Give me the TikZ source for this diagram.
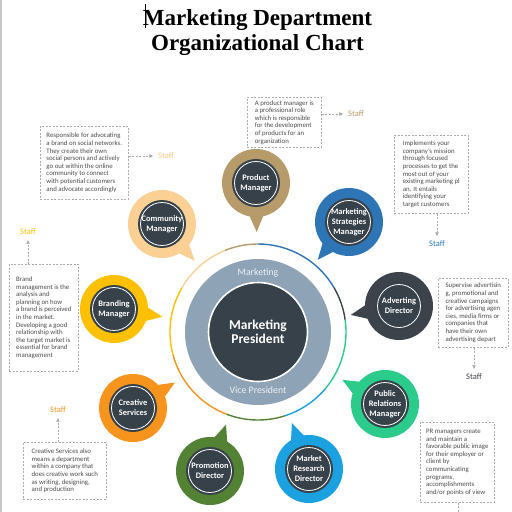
\documentclass[tikz,border=0pt]{standalone}
\usepackage{fontspec}
\setmainfont{Carlito}
\newfontfamily\titlefont{Liberation Serif}
\usetikzlibrary{calc,arrows.meta}

\definecolor{cdark}{RGB}{55,65,74}
\definecolor{cgb}{RGB}{143,163,182}
\definecolor{ccomm}{RGB}{250,208,148}
\definecolor{cprod}{RGB}{184,155,106}
\definecolor{cstrat}{RGB}{46,117,182}
\definecolor{cadv}{RGB}{61,67,74}
\definecolor{cpr}{RGB}{43,203,139}
\definecolor{cmr}{RGB}{27,160,224}
\definecolor{cpromo}{RGB}{84,130,53}
\definecolor{ccre}{RGB}{247,148,30}
\definecolor{cbrand}{RGB}{255,192,0}
\definecolor{cboxtext}{RGB}{75,75,75}
\definecolor{cboxline}{RGB}{170,170,170}
\definecolor{cvptext}{RGB}{235,240,245}

\tikzset{
  bubblebg/.style={circle, minimum size=68pt, inner sep=0pt},
  bubbleinner/.style={circle, fill=cdark, minimum size=48pt, inner sep=0pt, text=white,
    font=\fontsize{8.4}{10}\selectfont\bfseries, align=center},
  descbox/.style={draw=cboxline, dash pattern=on 2pt off 1.5pt, line width=0.6pt,
    font=\fontsize{6.8}{7.6}\selectfont, text=cboxtext, align=left, anchor=north west, inner sep=0pt},
  stafflabel/.style={font=\fontsize{8.5}{10}\selectfont, inner sep=2pt},
  staffarrow/.style={draw=cboxline, dash pattern=on 2pt off 1.5pt, line width=0.6pt,
    -{Triangle[length=3.5pt,width=3.5pt]}, shorten >=3pt},
  ringline/.style={line width=1.4pt},
  vplabel/.style={text=cvptext, font=\fontsize{9.8}{11}\selectfont},
}

\newcommand\mkbubble[5]{%
  \node[bubblebg, fill=#4] (#1) at (#2,#3) {};
  \fill[#4] ($(#1.center)!32pt!-14:(pres.center)$) -- ($(#1.center)!49pt!(pres.center)$) -- ($(#1.center)!32pt!14:(pres.center)$) -- cycle;
  \node[bubbleinner] (#1t) at (#2,#3) {#5};
  \draw[white, line width=0.8pt] (#1.center) circle[radius=21.5pt];
}

\begin{document}
\begin{tikzpicture}[x=1pt,y=-1pt]
\useasboundingbox (0,0) rectangle (512,512);
\fill[white] (0,0) rectangle (512,512);
\draw[gray!45, line width=1.5pt] (1,0) -- (1,512);

% title
\node[font=\titlefont\fontsize{23}{25}\selectfont\bfseries, anchor=base] (t1) at (257.5,25) {Marketing Department};
\node[font=\titlefont\fontsize{23}{25}\selectfont\bfseries, anchor=base] (t2) at (257.5,50) {Organizational Chart};
\draw[line width=0.8pt] (145,4) -- (145,28);

% center
\node[circle, fill=cgb, minimum size=146pt, inner sep=0pt] (vpdisk) at (258,332) {};
\node[circle, fill=cdark, draw=white, line width=1.6pt, minimum size=99pt, inner sep=0pt,
  text=white, font=\fontsize{13.5}{14}\selectfont\bfseries, align=center] (pres) at (258,332) {Marketing\\President};
\node[vplabel] (vptop) at (258,273) {Marketing};
\node[vplabel] (vpbot) at (258,390) {Vice President};

% colored outer ring
\draw[ccomm, ringline] ($(pres.center)+(150:88pt)$) arc[start angle=150, end angle=112, radius=88pt];
\draw[cprod, ringline] ($(pres.center)+(112:88pt)$) arc[start angle=112, end angle=90, radius=88pt];
\draw[cstrat, ringline] ($(pres.center)+(90:88pt)$) arc[start angle=90, end angle=30, radius=88pt];
\draw[cadv, ringline] ($(pres.center)+(30:88pt)$) arc[start angle=30, end angle=8, radius=88pt];
\draw[cpr, ringline] ($(pres.center)+(8:88pt)$) arc[start angle=8, end angle=-40, radius=88pt];
\draw[cmr, ringline] ($(pres.center)+(-40:88pt)$) arc[start angle=-40, end angle=-72, radius=88pt];
\draw[cpromo, ringline] ($(pres.center)+(-72:88pt)$) arc[start angle=-72, end angle=-111, radius=88pt];
\draw[ccre, ringline] ($(pres.center)+(-111:88pt)$) arc[start angle=-111, end angle=-165, radius=88pt];
\draw[cbrand, ringline] ($(pres.center)+(-165:88pt)$) arc[start angle=-165, end angle=-210, radius=88pt];

% bubbles
\mkbubble{comm}{162}{224}{ccomm}{Community\\Manager}
\mkbubble{prod}{256}{183}{cprod}{Product\\Manager}
\mkbubble{strat}{349}{222}{cstrat}{Marketing\\Strategies\\Manager}
\mkbubble{adv}{399}{306}{cadv}{Adverting\\Director}
\mkbubble{pr}{385}{404}{cpr}{Public\\Relations\\Manager}
\mkbubble{mr}{309}{469}{cmr}{Market\\Research\\Director}
\mkbubble{promo}{210}{471}{cpromo}{Promotion\\Director}
\mkbubble{cre}{133}{408}{ccre}{Creative\\Services}
\mkbubble{brand}{114}{309}{cbrand}{Branding\\Manager}

% description boxes
\node[descbox, minimum width=74pt, minimum height=50pt] (pbox) at (247,97)
 {A product manager is\\a professional role\\which is responsible\\for the development\\of products for an\\organization};
\node[descbox, minimum width=88pt, minimum height=73pt] (cbox) at (40,126)
 {Responsible for advocating\\a brand on social networks.\\They create their own\\social persons and actively\\go out within the online\\community to connect\\with potential customers\\and advocate accordingly};
\node[descbox, minimum width=74pt, minimum height=78pt] (sbox) at (394,135)
 {Implements your\\company's mission\\through focused\\processes to get the\\most out of your\\existing marketing pl\\an. It entails\\identifying your\\target customers};
\node[descbox, minimum width=70pt, minimum height=69pt] (abox) at (438,278)
 {Supervise advertisin\\g, promotional and\\creative campaigns\\for advertising agen\\cies, media firms or\\companies that\\have their own\\advertising depart};
\node[descbox, minimum width=74pt, minimum height=80pt] (rbox) at (420,422)
 {PR managers create\\and maintain a\\favorable public image\\for their employer or\\client by\\communicating\\programs,\\accomplishments\\and/or points of view};
\node[descbox, minimum width=83pt, minimum height=57pt] (crbox) at (23,442)
 {Creative Services also\\means a department\\within a company that\\does creative work such\\as writing, designing,\\and production};
\node[descbox, minimum width=69pt, minimum height=107pt] (brbox) at (9,264)
 {Brand\\management is the\\analysis and\\planning on how\\a brand is perceived\\in the market.\\Developing a good\\relationship with\\the target market is\\essential for brand\\management};

% staff labels
\node[stafflabel, text=cprod] (pstaff) at (356,114) {Staff};
\node[stafflabel, text=ccomm!90!orange] (cstaff) at (166,156) {Staff};
\node[stafflabel, text=cstrat] (sstaff) at (437,244) {Staff};
\node[stafflabel, text=cadv] (astaff) at (474,377) {Staff};
\node[stafflabel, text=ccre] (crstaff) at (58,410) {Staff};
\node[stafflabel, text=cbrand] (brstaff) at (28,232) {Staff};
\coordinate (prend) at (458,512);

\draw[staffarrow] (pbox.east |- pstaff.west) -- (pstaff.west);
\draw[staffarrow] (cbox.east |- cstaff.west) -- (cstaff.west);
\draw[staffarrow] (sstaff.north |- sbox.south) -- (sstaff.north);
\draw[staffarrow] (astaff.north |- abox.south) -- (astaff.north);
\draw[staffarrow] (crstaff.south |- crbox.north) -- (crstaff.south);
\draw[staffarrow] (brstaff.south |- brbox.north) -- (brstaff.south);
\draw[draw=cboxline, dash pattern=on 2pt off 1.5pt, line width=0.6pt] (prend |- rbox.south) -- (prend);
\end{tikzpicture}
\end{document}
